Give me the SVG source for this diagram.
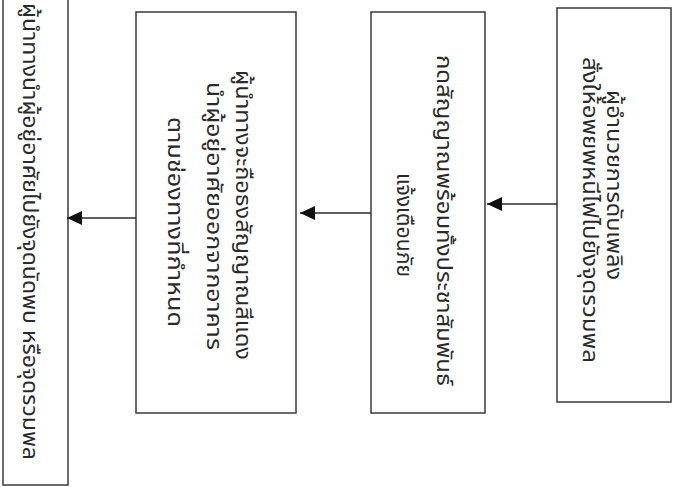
<svg xmlns="http://www.w3.org/2000/svg" width="676" height="487" viewBox="0 0 676 487">
<style>
.box{fill:#fff;stroke:#3a3a3a;stroke-width:1.5}
.t{font-family:"Noto Sans Thai","Noto Sans","DejaVu Sans",sans-serif;font-size:21px;fill:#2a2a2a;dominant-baseline:central}
.c{stroke:#2a2a2a;stroke-width:1.3;fill:none}
</style>
<defs>
<marker id="ah" markerWidth="16" markerHeight="14" refX="15" refY="7" orient="auto" markerUnits="userSpaceOnUse">
<path d="M0,0 L15,7 L0,14 Z" fill="#111"/>
</marker>
</defs>
<rect width="676" height="487" fill="#fff"/>
<g id="node1">
<rect class="box" x="3" y="-4" width="65" height="489"/>
<text class="t" transform="translate(29,3) rotate(90)" textLength="457" lengthAdjust="spacingAndGlyphs">ผู้นำทางนำผู้อยู่อาศัยไปยังจุดนัดพบ หรือจุดรวมพล</text>
</g>
<g id="node2">
<rect class="box" x="136" y="12" width="160" height="401"/>
<text class="t" transform="translate(242,70) rotate(90)" textLength="290" lengthAdjust="spacingAndGlyphs">ผู้นำทางจะถือธงสัญญาณสีแดง</text>
<text class="t" transform="translate(213,82) rotate(90)" textLength="268" lengthAdjust="spacingAndGlyphs">นำผู้อยู่อาศัยออกจากอาคาร</text>
<text class="t" transform="translate(174,117) rotate(90)" textLength="210" lengthAdjust="spacingAndGlyphs">ตามช่องทางที่กำหนด</text>
</g>
<g id="node3">
<rect class="box" x="371" y="12" width="114" height="401"/>
<text class="t" transform="translate(443,55) rotate(90)" textLength="331" lengthAdjust="spacingAndGlyphs">กดสัญญาณพร้อมทั้งประชาสัมพันธ์</text>
<text class="t" transform="translate(403,173) rotate(90)" textLength="104" lengthAdjust="spacingAndGlyphs">แจ้งเตือนภัย</text>
</g>
<g id="node4">
<rect class="box" x="557" y="8" width="114" height="394"/>
<text class="t" transform="translate(613,90) rotate(90)" textLength="190" lengthAdjust="spacingAndGlyphs">ผู้อำนวยการดับเพลิง</text>
<text class="t" transform="translate(589,57) rotate(90)" textLength="306" lengthAdjust="spacingAndGlyphs">สั่งให้อพยพหนีไฟไปยังจุดรวมพล</text>
</g>
<g id="connectors">
<line class="c" x1="557" y1="204" x2="487" y2="204" marker-end="url(#ah)"/>
<line class="c" x1="371" y1="213" x2="300" y2="213" marker-end="url(#ah)"/>
<line class="c" x1="136" y1="218" x2="67" y2="218" marker-end="url(#ah)"/>
</g>
</svg>
